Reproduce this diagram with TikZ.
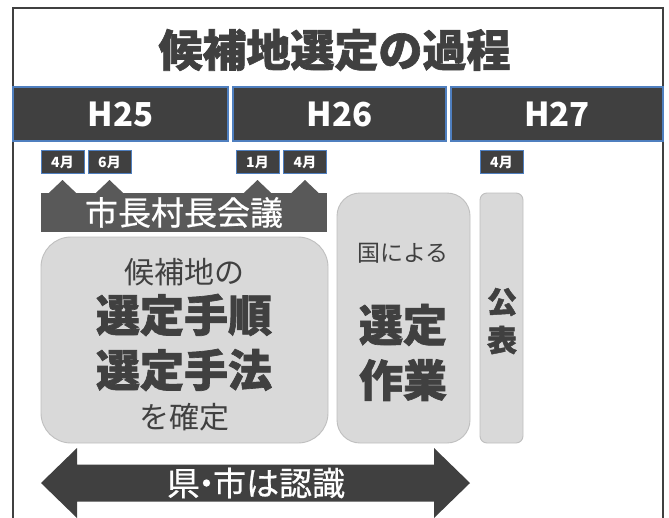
\documentclass[tikz,border=0pt]{standalone}
\usepackage{fontspec}
\setmainfont{Noto Sans CJK JP}
\newfontfamily\heavyfont{Noto Sans CJK JP}[FakeBold=1.5]
\newfontfamily\medfont{Noto Sans CJK JP}[FakeBold=0.6]
\usetikzlibrary{calc}
\definecolor{dk}{HTML}{404040}
\definecolor{mid}{HTML}{595959}
\definecolor{boxfill}{HTML}{D9D9D9}
\definecolor{boxline}{HTML}{BFBFBF}
\definecolor{edge}{HTML}{4F7FBF}
\newcommand\fsz[1]{\fontsize{#1}{#1}\selectfont}
\begin{document}
\begin{tikzpicture}[x=1pt,y=-1pt,
  yearbar/.style={fill=dk,draw=edge,line width=1.1pt,inner sep=0pt,minimum height=54pt,text=white,font=\bfseries\fsz{33}},
  monthbox/.style={fill=dk,draw=edge,line width=1pt,inner sep=0pt,minimum width=43pt,minimum height=23pt,text=white,font=\bfseries\fsz{14}},
  graybox/.style={fill=boxfill,draw=boxline,line width=0.9pt,inner sep=0pt},
  heavytxt/.style={text=dk,inner sep=0pt,font=\heavyfont\bfseries\fsz{44}},
  lighttxt/.style={text=dk,inner sep=0pt,font=\fsz{30}},
  pointer/.style={fill=mid}
]
\useasboundingbox (0,0) rectangle (669,517);
\fill[white] (0,0) rectangle (669,517);
% outer frame
\coordinate (fbl) at (13,530);
\coordinate (ftl) at (13,8);
\coordinate (ftr) at (663,8);
\coordinate (fbr) at (663,530);
\draw[dk,line width=2pt] (fbl) -- (ftl) -- (ftr) -- (fbr);
% title
\node[text=dk,inner sep=0pt,font=\heavyfont\bfseries\fsz{44}] (title) at (334.5,50) {候補地選定の過程};
% year bars
\node[yearbar,minimum width=215pt] (h25) at (120.5,114) {H25};
\node[yearbar,minimum width=213pt] (h26) at (339.5,114) {H26};
\node[yearbar,minimum width=212pt] (h27) at (557,114) {H27};
% months
\node[monthbox] (m1) at (62.5,162) {4月};
\node[monthbox] (m2) at (109.5,162) {6月};
\node[monthbox] (m3) at (257.5,162) {1月};
\node[monthbox] (m4) at (305,162) {4月};
\node[monthbox] (m5) at (501.5,162) {4月};
% banner
\node[fill=mid,inner sep=0pt,minimum width=286pt,minimum height=39pt,text=white,font=\medfont\fsz{33}] (banner) at (184,212.5) {市長村長会議};
\foreach \m in {m1,m2,m3,m4}{
  \fill[pointer] ($(\m.south)+(0,6)$) -- ($(\m.south |- banner.north)+(-14,0.5)$) -- ($(\m.south |- banner.north)+(14,0.5)$) -- cycle;
}
% grey boxes
\node[graybox,rounded corners=30pt,minimum width=287pt,minimum height=206pt] (box1) at (184.5,340) {};
\node[graybox,rounded corners=23pt,minimum width=133pt,minimum height=250pt] (box2) at (403.5,318) {};
\node[graybox,rounded corners=7pt,minimum width=43pt,minimum height=250pt] (box3) at (501.5,318) {};
% box1 texts
\node[lighttxt] (b1a) at (184,272) {候補地の};
\node[heavytxt] (b1b) at (184,315) {選定手順};
\node[heavytxt] (b1c) at (184,370) {選定手法};
\node[lighttxt] (b1d) at (184,417) {を確定};
% box2 texts
\node[lighttxt,font=\fsz{23}] (b2a) at (403,253) {国による};
\node[heavytxt] (b2b) at (403,325) {選定};
\node[heavytxt] (b2c) at (403,380) {作業};
% box3 texts
\node[heavytxt,font=\heavyfont\bfseries\fsz{30}] (b3a) at (502,302) {公};
\node[heavytxt,font=\heavyfont\bfseries\fsz{30}] (b3b) at (502,340) {表};
% double arrow
\fill[dk] (41,483) -- (77,448) -- (77,464.5) -- (434,464.5) -- (434,448) -- (470,483)
  -- (434,518) -- (434,501.5) -- (77,501.5) -- (77,518) -- cycle;
\node[text=white,inner sep=0pt,font=\medfont\fsz{33}] (recog) at (256,483) {県\kern-0.3em・\kern-0.3em市は認識};
\end{tikzpicture}
\end{document}
